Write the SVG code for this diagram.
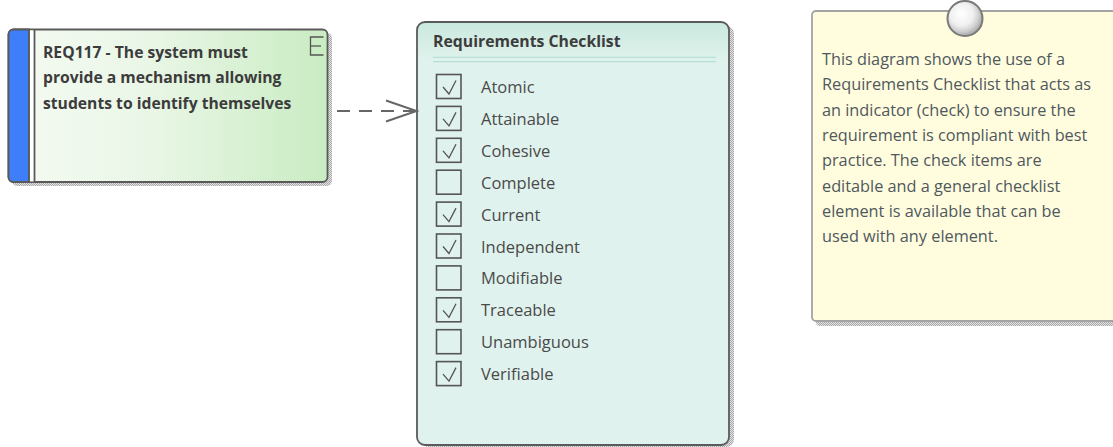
<svg xmlns="http://www.w3.org/2000/svg" xmlns:xlink="http://www.w3.org/1999/xlink" width="1113" height="447" viewBox="0 0 1113 447">
<style>
  .req-text { font-family: "Open Sans", "Noto Sans", sans-serif; font-size: 15.7px; font-weight: bold; fill: #3c3c3c; }
  .title { font-family: "Open Sans", "Noto Sans", sans-serif; font-size: 15.8px; font-weight: bold; fill: #3c3c3c; }
  .item { font-family: "Open Sans", "Noto Sans", sans-serif; font-size: 16.5px; fill: #4a4a4a; }
  .note-text { font-family: "Open Sans", "Noto Sans", sans-serif; font-size: 16.3px; fill: #4f5860; }
  .frame { stroke: #5a5a5a; stroke-width: 1.8; }
  .box { fill: none; stroke: #555; stroke-width: 1.6; }
  .tick { fill: none; stroke: #555; stroke-width: 1.3; }
  .conn { fill: none; stroke: #666; stroke-width: 2; stroke-dasharray: 13 9; }
</style>
<defs>
  <pattern id="dots" width="2" height="2" patternUnits="userSpaceOnUse">
    <rect x="0" y="0" width="1" height="1" fill="#a8a8a8"/>
    <rect x="1" y="1" width="1" height="1" fill="#a8a8a8"/>
    <rect x="1" y="0" width="1" height="1" fill="#e4e4e4"/>
    <rect x="0" y="1" width="1" height="1" fill="#e4e4e4"/>
  </pattern>
  <linearGradient id="reqFill" x1="0" y1="0" x2="1" y2="0">
    <stop offset="0" stop-color="#f5fbf3"/>
    <stop offset="0.45" stop-color="#e9f6e6"/>
    <stop offset="1" stop-color="#c9ecc2"/>
  </linearGradient>
  <linearGradient id="chkFill" x1="0" y1="22" x2="0" y2="445" gradientUnits="userSpaceOnUse">
    <stop offset="0" stop-color="#c9e9de"/>
    <stop offset="0.09" stop-color="#e0f2ed"/>
    <stop offset="1" stop-color="#e0f2ed"/>
  </linearGradient>
  <radialGradient id="pin" cx="0.42" cy="0.4" r="0.6" fx="0.38" fy="0.35">
    <stop offset="0" stop-color="#ffffff"/>
    <stop offset="0.55" stop-color="#f0f0f0"/>
    <stop offset="0.8" stop-color="#cfcfcf"/>
    <stop offset="1" stop-color="#a9a9a9"/>
  </radialGradient>
  <g id="cb"><rect class="box" x="0" y="0" width="24.5" height="24"/></g>
  <g id="cbx"><rect class="box" x="0" y="0" width="24.5" height="24"/><polyline class="tick" points="6.5,12.5 12.5,19.5 19.5,6"/></g>
  <marker id="openArrow" markerUnits="userSpaceOnUse" markerWidth="34" markerHeight="26" viewBox="0 0 34 26" refX="31" refY="13" orient="auto" overflow="visible">
    <polyline points="0.5,2.5 31,13 0.5,23.5" fill="none" stroke="#666" stroke-width="2"/>
  </marker>
</defs>

<!-- Requirement node -->
<g id="node-req117">
  <rect x="12" y="33" width="320" height="153" rx="5" fill="url(#dots)"/>
  <rect class="frame" x="8.5" y="29.5" width="319" height="152.5" rx="5" fill="url(#reqFill)"/>
  <path d="M13.5,29.5 H29 V182 H13.5 A5,5 0 0 1 8.5,177 V34.5 A5,5 0 0 1 13.5,29.5 Z" fill="#3f7ef9" class="frame"/>
  <rect x="29.5" y="30.4" width="4.5" height="151" fill="#ffffff"/>
  <line x1="34.5" y1="29.5" x2="34.5" y2="183" class="frame"/>
  <line x1="29" y1="29.5" x2="29" y2="182" class="frame"/>
  <polyline points="323.5,37 310.5,37 310.5,55 323.5,55" fill="none" stroke="#555" stroke-width="1.3"/>
  <line x1="310.5" y1="46" x2="321" y2="46" stroke="#555" stroke-width="1.3"/>
  <text class="req-text" x="43" y="57.5">REQ117 - The system must</text>
  <text class="req-text" x="43" y="83">provide a mechanism allowing</text>
  <text class="req-text" x="43" y="108.5">students to identify themselves</text>
</g>

<!-- Checklist node -->
<g id="node-checklist">
  <rect x="421" y="26" width="313" height="421" rx="8" fill="url(#dots)"/>
  <rect class="frame" x="417" y="22" width="312" height="423" rx="8" fill="url(#chkFill)"/>
  <text class="title" x="433" y="47">Requirements Checklist</text>
  <line x1="433" y1="57.3" x2="716" y2="57.3" stroke="#b5e0d3" stroke-width="1.3"/>
  <line x1="433" y1="61.7" x2="716" y2="61.7" stroke="#b5e0d3" stroke-width="1.3"/>
  <use xlink:href="#cbx" x="436.5" y="74.5"/>
  <text class="item" x="481" y="93">Atomic</text>
  <use xlink:href="#cbx" x="436.5" y="106.4"/>
  <text class="item" x="481" y="124.9">Attainable</text>
  <use xlink:href="#cbx" x="436.5" y="138.3"/>
  <text class="item" x="481" y="156.8">Cohesive</text>
  <use xlink:href="#cb" x="436.5" y="170.2"/>
  <text class="item" x="481" y="188.7">Complete</text>
  <use xlink:href="#cbx" x="436.5" y="202.1"/>
  <text class="item" x="481" y="220.6">Current</text>
  <use xlink:href="#cbx" x="436.5" y="234"/>
  <text class="item" x="481" y="252.5">Independent</text>
  <use xlink:href="#cb" x="436.5" y="265.9"/>
  <text class="item" x="481" y="284.4">Modifiable</text>
  <use xlink:href="#cbx" x="436.5" y="297.8"/>
  <text class="item" x="481" y="316.3">Traceable</text>
  <use xlink:href="#cb" x="436.5" y="329.7"/>
  <text class="item" x="481" y="348.2">Unambiguous</text>
  <use xlink:href="#cbx" x="436.5" y="361.6"/>
  <text class="item" x="481" y="380.1">Verifiable</text>
</g>

<!-- Note node -->
<g id="node-note">
  <rect x="816" y="15" width="310" height="311" rx="4" fill="url(#dots)"/>
  <rect x="812" y="11" width="310" height="310" rx="4" fill="#fffddd" stroke="#a3a3a3" stroke-width="1.8"/>
  <circle cx="965" cy="18.5" r="17.5" fill="url(#pin)" stroke="#7a7a7a" stroke-width="2"/>
  <text class="note-text" x="822" y="65">This diagram shows the use of a</text>
  <text class="note-text" x="822" y="90.3">Requirements Checklist that acts as</text>
  <text class="note-text" x="822" y="115.6">an indicator (check) to ensure the</text>
  <text class="note-text" x="822" y="140.9">requirement is compliant with best</text>
  <text class="note-text" x="822" y="166.2">practice. The check items are</text>
  <text class="note-text" x="822" y="191.5">editable and a general checklist</text>
  <text class="note-text" x="822" y="216.8">element is available that can be</text>
  <text class="note-text" x="822" y="242.1">used with any element.</text>
</g>

<!-- Connectors -->
<g id="connectors">
  <path class="conn" d="M337,111 H416.5" marker-end="url(#openArrow)"/>
</g>
</svg>
